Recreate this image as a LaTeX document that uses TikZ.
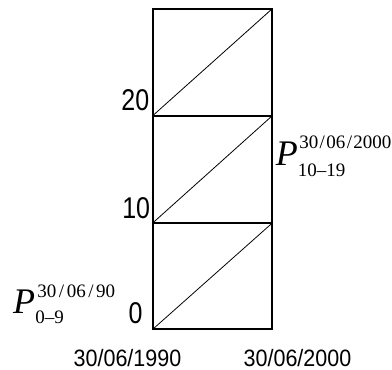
\documentclass[tikz,border=0pt]{standalone}
\usepackage{fontspec}
\setmainfont{Liberation Serif}
\newfontfamily\arialf{Liberation Sans}
\newcommand\scrf{\fontsize{19}{19}\selectfont\upshape}
\newcommand\bigP{{\fontsize{36}{36}\selectfont\itshape P}}
\newcommand\myslash{\kern1.4pt/\kern1.4pt}
\newcommand\wideslash{\kern2.5pt/\kern2.5pt}
\newcommand\tallnum[1]{\scalebox{1}[1.2]{#1}}
\newcommand\talldate[1]{\scalebox{1}[1.1]{#1}}
% #1 sup, #2 sub, #3 sup raise, #4 sub lower, #5 sup kern, #6 sub kern
\newcommand\plabel[6]{\bigP\rlap{\kern#5\raisebox{#3}{\scrf #1}}\kern#6\raisebox{-#4}{\scrf #2}}
\begin{document}
\begin{tikzpicture}[x=1pt,y=-1pt,
  cell/.style={line width=2pt},
  diag/.style={line width=0.8pt},
  num/.style={font=\arialf\fontsize{25}{25}\selectfont, inner sep=0pt},
  datelbl/.style={font=\arialf\fontsize{21.5}{21.5}\selectfont, inner sep=0pt},
  plab/.style={inner sep=0pt, anchor=base west}]
\useasboundingbox (0,0) rectangle (392,370);
\coordinate (a0) at (152.7,329.3);
\coordinate (b0) at (272.3,329.3);
\coordinate (a1) at (152.7,223);
\coordinate (b1) at (272.3,223);
\coordinate (a2) at (152.7,115.7);
\coordinate (b2) at (272.3,115.7);
\coordinate (a3) at (152.7,8.7);
\coordinate (b3) at (272.3,8.7);
\draw[cell] (a0) -- (b0) -- (b3) -- (a3) -- cycle;
\draw[cell] (a1) -- (b1);
\draw[cell] (a2) -- (b2);
\draw[diag] (a0) -- (b1);
\draw[diag] (a1) -- (b2);
\draw[diag] (a2) -- (b3);
\node[num, anchor=base east] (n20) at (149.5,110) {\tallnum{20}};
\node[num, anchor=base east] (n10) at (150.3,218.3) {\tallnum{10}};
\node[num, anchor=base east] (n0) at (142.8,323.3) {\tallnum{0}};
\node[datelbl, anchor=base] (d1) at (127.5,366.5) {\talldate{30/06/1990}};
\node[datelbl, anchor=base] (d2) at (297.5,366.5) {\talldate{30/06/2000}};
\node[plab] (p1) at (12.8,313.3) {\plabel{30\wideslash06\wideslash90}{0--9}{15.5pt}{10pt}{2.5pt}{0.5pt}};
\node[plab] (p2) at (275.6,165.5) {\plabel{30\myslash06\myslash2000}{10--19}{17pt}{10.5pt}{1.5pt}{0pt}};
\end{tikzpicture}
\end{document}
